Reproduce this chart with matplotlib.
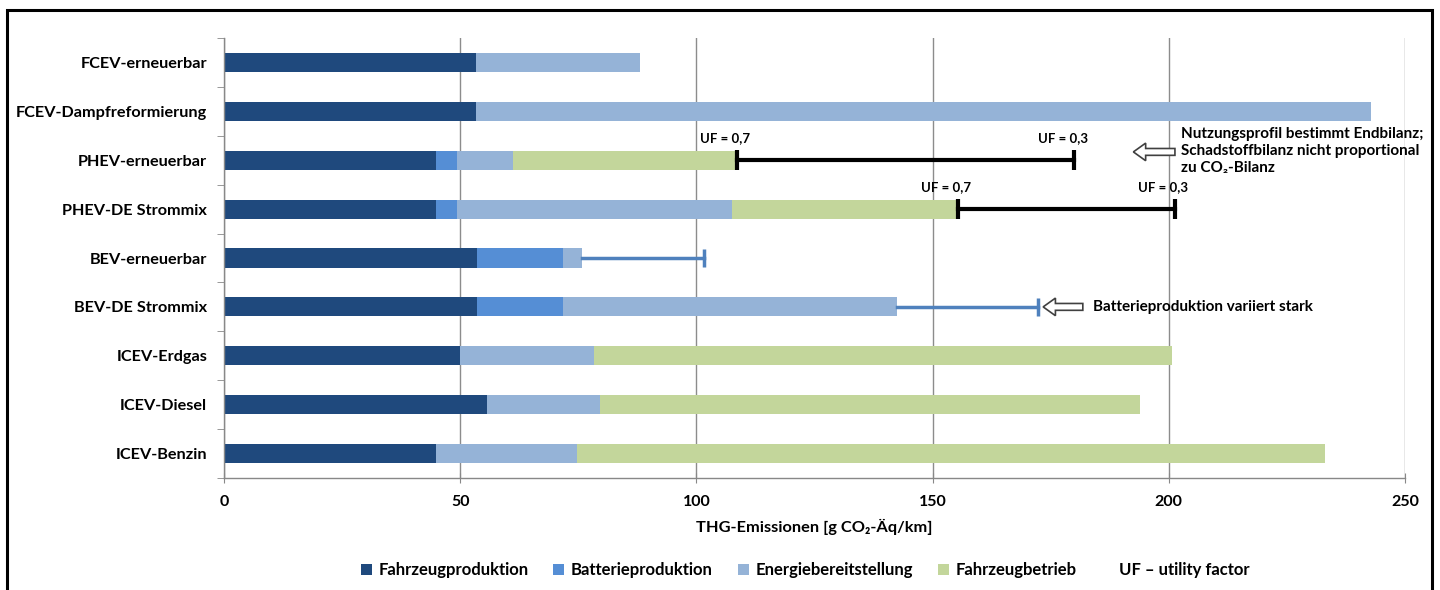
import matplotlib
matplotlib.use('Agg')
import matplotlib.pyplot as plt
from matplotlib.patches import Patch, Rectangle, FancyArrow
import numpy as np

plt.rcParams['font.family'] = ['Lato', 'DejaVu Sans']
plt.rcParams['font.weight'] = 'bold'

# data, listed top to bottom as shown
categories = ['FCEV-erneuerbar', 'FCEV-Dampfreformierung', 'PHEV-erneuerbar',
              'PHEV-DE Strommix', 'BEV-erneuerbar', 'BEV-DE Strommix',
              'ICEV-Erdgas', 'ICEV-Diesel', 'ICEV-Benzin']
fahrzeugproduktion = [53.3, 53.3, 44.9, 44.9, 53.6, 53.6, 50.0, 55.6, 44.9]
batterieproduktion = [0, 0, 4.4, 4.4, 18.1, 18.1, 0, 0, 0]
energiebereitstellung = [34.8, 189.5, 11.8, 58.2, 4.1, 70.8, 28.3, 24.0, 29.8]
fahrzeugbetrieb = [0, 0, 47.5, 47.8, 0, 0, 122.4, 114.3, 158.4]

# PHEV utility-factor ranges (UF = 0,7 -> UF = 0,3)
phev_rows = ['PHEV-erneuerbar', 'PHEV-DE Strommix']
phev_uf03 = [180.0, 201.3]
# BEV battery production range
bev_rows = ['BEV-erneuerbar', 'BEV-DE Strommix']
bev_high = [101.6, 172.3]

series_names = ['Fahrzeugproduktion', 'Batterieproduktion',
                'Energiebereitstellung', 'Fahrzeugbetrieb']
colors = ['#1F497D', '#558ED5', '#95B3D7', '#C3D69B']

W, H = 1440, 590
fig = plt.figure(figsize=(W / 100, H / 100), dpi=100)
ax = fig.add_axes([224 / W, 1 - 478 / H, (1405 - 224) / W, (478 - 38) / H])

n = len(categories)
ypos = np.arange(n)[::-1]
left = np.zeros(n)
for vals, name, c in zip([fahrzeugproduktion, batterieproduktion,
                          energiebereitstellung, fahrzeugbetrieb],
                         series_names, colors):
    vals = np.array(vals, dtype=float)
    ax.barh(ypos, vals, left=left, height=0.39, color=c, label=name, zorder=2)
    left += vals
totals = dict(zip(categories, left))
ymap = dict(zip(categories, ypos))

# PHEV ranges (black, caps at both ends)
for cat, hi in zip(phev_rows, phev_uf03):
    y = ymap[cat]
    lo = totals[cat]
    ax.plot([lo, hi], [y, y], color='black', lw=3, zorder=3)
    ax.plot([lo, hi], [y, y], ls='none', marker='|', ms=15, mew=3,
            color='black', zorder=3)
    ax.text(lo - 2.5, y + 0.45, 'UF = 0,7', fontsize=9.5, ha='center',
            va='center')
    ax.text(hi - 2.5, y + 0.45, 'UF = 0,3', fontsize=9.5, ha='center',
            va='center')

# BEV ranges (blue, cap at end)
for cat, hi in zip(bev_rows, bev_high):
    y = ymap[cat]
    lo = totals[cat]
    ax.plot([lo, hi], [y, y], color='#4F81BD', lw=2.5, zorder=3)
    ax.plot([hi], [y], ls='none', marker='|', ms=13, mew=2.5,
            color='#4F81BD', zorder=3)

# hollow arrows + notes
def hollow_arrow(x_tip, x_tail, y):
    arr = FancyArrow(x_tail, y, x_tip - x_tail, 0, width=0.14,
                     head_width=0.36, head_length=2.6,
                     length_includes_head=True, facecolor='white',
                     edgecolor='#404040', lw=1.2, zorder=4)
    ax.add_patch(arr)

y1 = ymap['PHEV-erneuerbar'] + 0.17
hollow_arrow(192.5, 201.3, y1)
ax.text(202.6, y1 + 0.02,
        'Nutzungsprofil bestimmt Endbilanz;\nSchadstoffbilanz nicht proportional\nzu CO\u2082-Bilanz',
        fontsize=11, ha='left', va='center', linespacing=1.3)

y2 = ymap['BEV-DE Strommix']
hollow_arrow(173.4, 181.8, y2)
ax.text(184.0, y2, 'Batterieproduktion variiert stark', fontsize=11,
        ha='left', va='center')

# axes styling
ax.set_xlim(0, 250)
ax.set_ylim(-0.5, n - 0.5)
ax.set_xticks(np.arange(0, 251, 50))
ax.set_yticks(ypos)
ax.set_yticklabels(categories, fontsize=11.7, fontweight='bold')
ax.set_yticks(np.arange(-0.5, n, 1), minor=True)
ax.tick_params(axis='y', which='major', length=0, pad=12)
ax.tick_params(axis='y', which='minor', length=5, color='#888888',
               direction='out')
ax.tick_params(axis='x', length=7, direction='inout', color='#888888',
               labelsize=11.5, pad=9)
for lab in ax.get_xticklabels():
    lab.set_fontweight('bold')
ax.grid(axis='x', color='#8C8C8C', lw=1, zorder=0)
ax.set_axisbelow(True)
for s in ['top', 'right']:
    ax.spines[s].set_visible(False)
for s in ['left', 'bottom']:
    ax.spines[s].set_color('#888888')
    ax.spines[s].set_linewidth(1)

ax.set_xlabel('THG-Emissionen [g CO\u2082-\u00c4q/km]', fontsize=11.8,
              fontweight='bold', labelpad=7)

handles = [Patch(facecolor=c, edgecolor='none') for c in colors]
handles.append(Patch(facecolor='none', edgecolor='none'))
labels = series_names + ['UF \u2013 utility factor']
fig.legend(handles, labels, loc='center', bbox_to_anchor=(805 / W, 1 - 570 / H),
           ncol=5, frameon=False, handlelength=0.65,
           handleheight=0.65, handletextpad=0.4, columnspacing=1.5,
           prop={'weight': 'bold', 'size': 12})

# outer frame
fig.patches.append(Rectangle((7 / W, -0.05), (1432 - 7) / W, 1.05 - 10 / H,
                             transform=fig.transFigure, fill=False,
                             edgecolor='black', lw=2.2))

fig.savefig('out.png', dpi=100, facecolor='white')
